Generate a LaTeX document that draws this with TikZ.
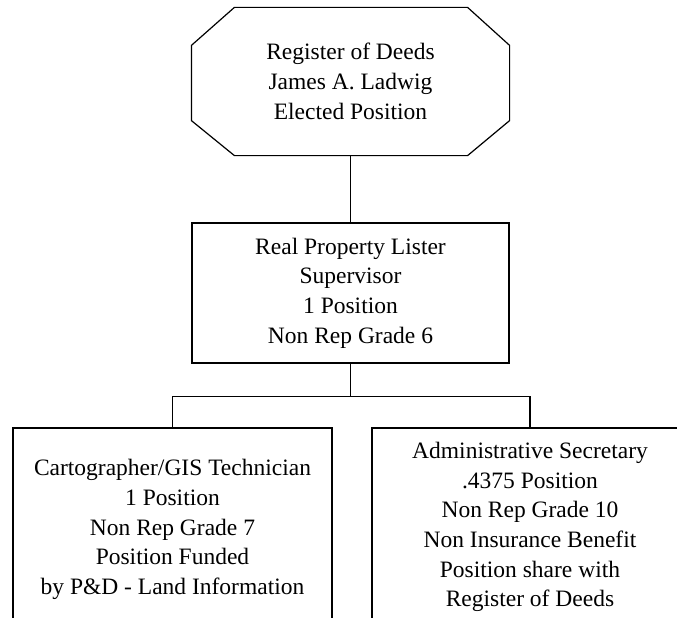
\documentclass[tikz,border=0pt]{standalone}
\usepackage{fontspec}
\newfontfamily\orgfont{Liberation Serif}
\usetikzlibrary{calc}
\begin{document}
\begin{tikzpicture}[x=1pt,y=-1pt,
  line width=1.2pt,
  orgtext/.style={font=\orgfont\fontsize{23.5}{29.7}\selectfont, align=center, inner sep=0pt},
  post/.style={orgtext, draw, rectangle}]
\useasboundingbox (0,0) rectangle (677,618);
\clip (0,0) rectangle (677,618);
% elected office (octagon outline drawn from the node's corners)
\node[orgtext, minimum width=317pt, minimum height=147pt] (rod) at (350.5,81.5)
  {Register of Deeds\\James A. Ladwig\\Elected Position};
\draw ($(rod.north west)+(43,0)$) -- ($(rod.north east)+(-42,0)$)
  -- ($(rod.north east)+(0,38)$) -- ($(rod.south east)+(0,-35)$)
  -- ($(rod.south east)+(-42,0)$) -- ($(rod.south west)+(43,0)$)
  -- ($(rod.south west)+(0,-35)$) -- ($(rod.north west)+(0,38)$) -- cycle;
% supervisor
\node[post, minimum width=317pt, minimum height=140pt] (sup) at (350.5,293)
  {Real Property Lister\\Supervisor\\1 Position\\Non Rep Grade 6};
% staff positions
\node[post, minimum width=319pt, minimum height=203pt] (cart) at (172.5,529.5)
  {Cartographer/GIS Technician\\1 Position\\Non Rep Grade 7\\Position Funded\\by P\&D - Land Information};
\node[post, minimum width=316pt, minimum height=198pt] (admin) at (530,527)
  {Administrative Secretary\\.4375 Position\\Non Rep Grade 10\\Non Insurance Benefit\\Position share with\\Register of Deeds};
% reporting lines
\draw (rod.south) -- (sup.north);
\draw (sup.south) -- ++(0,33) coordinate (bus);
\draw (cart.north) |- (bus) -| (admin.north);
\end{tikzpicture}
\end{document}
